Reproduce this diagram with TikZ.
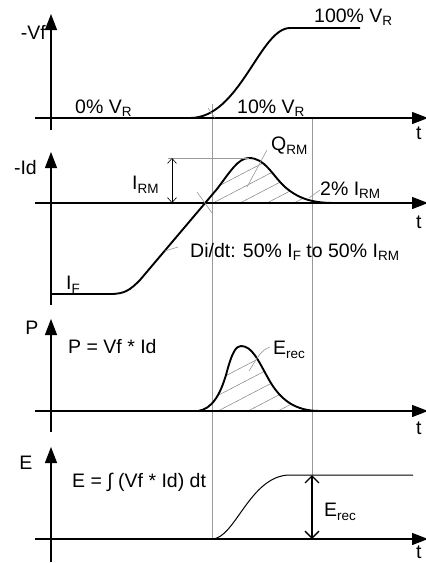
\documentclass[tikz,border=0pt]{standalone}
\usepackage{fontspec}
\setmainfont{Liberation Sans}
\usetikzlibrary{arrows.meta}
\newcommand\lw[1]{\raisebox{-0.35ex}{\fontsize{13.5}{13.5}\selectfont #1}}

\begin{document}
\begin{tikzpicture}[x=1pt,y=-1pt,
    font=\fontsize{19.5}{22}\selectfont,
    asse/.style={line width=1.3pt,-{Triangle[length=16pt,width=12pt]}},
    curva/.style={line width=1.9pt,line join=round},
    guida/.style={gray!80,line width=0.6pt},
    tratto/.style={gray,line width=0.5pt},
    lbl/.style={inner sep=0pt,anchor=west}]
    \useasboundingbox (0,0) rectangle (426,563);
    %linee guida verticali
    \draw[guida] (212,104) -- (212,539);
    \draw[guida] (312,118) -- (312,475);
    %grafico Vf: assi
    \draw[asse] (35,118) -- (428,118);
    \draw[asse] (51,130) -- (51,14);
    \node[anchor=east,inner sep=0pt] (vf) at (46,32) {-Vf};
    \node[lbl] (t1) at (416,133) {t};
    %curva Vf
    \draw[curva] (51,118) -- (190,118) .. controls (240,118) and (260,28) .. (290,28) -- (360,28);
    \draw[guida] (208,108) -- (215,118);
    \node[lbl] (vcento) at (314,17) {100\% V\lw{R}};
    \node[lbl] (vzero) at (75,108) {0\% V\lw{R}};
    \node[lbl] (vdieci) at (237,108) {10\% V\lw{R}};
    %grafico Id: tratteggio
    \begin{scope}
        \clip (203.5,203) -- (217,189) .. controls (230,172) and (238,158) .. (249,158) .. controls (265,158) and (272,175) .. (285,187) .. controls (300,200) and (315,203) .. (335,203) -- cycle;
        \foreach \s in {132,159,...,321}
            \draw[tratto] (\s,203) -- ++(100,-52);
    \end{scope}
    %grafico Id: assi
    \draw[asse] (35,203) -- (428,203);
    \draw[asse] (51,305) -- (51,152);
    \node[anchor=east,inner sep=0pt] (id) at (37,168) {-Id};
    \node[lbl] (t2) at (416,222) {t};
    %curva Id
    \draw[curva] (51,294) -- (110,294) .. controls (125,294) and (130,290) .. (140,280) -- (217,189) .. controls (230,172) and (238,158) .. (249,158) .. controls (265,158) and (272,175) .. (285,187) .. controls (300,200) and (315,203) .. (335,203) -- (400,203);
    \draw[guida] (197,192) -- (212,213);
    %I_RM
    \draw[guida] (168,158) -- (249,158);
    \draw[line width=0.6pt,{Straight Barb[length=5pt,width=9pt]}-{Straight Barb[length=5pt,width=9pt]}] (172,158) -- (172,203);
    \node[lbl] (irm) at (132,185) {I\lw{RM}};
    \node[lbl] (qrm) at (271,146) {Q\lw{RM}};
    \draw[guida] (qrm.west) ++(-4,4) -- (247,187);
    \node[lbl] (pirm) at (320,190) {2\% I\lw{RM}};
    \draw[guida] (309,198) -- (pirm.west);
    \node[lbl] (didt) at (190,252) {Di/dt: 50\% I\lw{F} to 50\% I\lw{RM}};
    \coordinate (pdi) at (165,251);
    \draw[guida] (pdi) -- ++(13,-4);
    \node[lbl] (ifw) at (66,285) {I\lw{F}};
    %grafico P: tratteggio
    \begin{scope}
        \clip (198,411) .. controls (212,409) and (220,395) .. (226,375) .. controls (232,352) and (236,346) .. (241,346) .. controls (252,346) and (258,360) .. (268,378) .. controls (280,400) and (295,411) .. (320,411) -- cycle;
        \foreach \s in {128,158,...,338}
            \draw[tratto] (\s,411) -- ++(100,-52);
    \end{scope}
    %grafico P: assi
    \draw[asse] (35,411) -- (428,411);
    \draw[asse] (51,432) -- (51,319);
    \node (p) at (32,328) {P};
    \node[lbl] (t3) at (416,428) {t};
    \node[lbl] (peq) at (68,347) {P = Vf * Id};
    %curva P
    \draw[curva] (51,411) -- (198,411) .. controls (212,409) and (220,395) .. (226,375) .. controls (232,352) and (236,346) .. (241,346) .. controls (252,346) and (258,360) .. (268,378) .. controls (280,400) and (295,411) .. (320,411) -- (405,411);
    \node[lbl] (erec) at (273,350) {E\lw{rec}};
    \draw[guida] (erec.west) ++(-3,-3) .. controls (260,350) and (255,362) .. (249,371);
    %grafico E: assi
    \draw[asse] (35,539) -- (428,539);
    \draw[asse] (51,562) -- (51,447);
    \node (e) at (26,463) {E};
    \node[lbl] (t4) at (416,552) {t};
    \node[lbl] (eeq) at (72,482) {E = ∫ (Vf * Id) dt};
    %curva E
    \draw[line width=1pt] (212,539) .. controls (235,539) and (250,475) .. (290,475) -- (413,475);
    %freccia E_rec
    \draw[line width=1.3pt,{Straight Barb[length=7pt,width=14pt]}-{Straight Barb[length=7pt,width=14pt]}] (312,475) -- (312,539);
    \node[lbl] (erecb) at (324,512) {E\lw{rec}};
\end{tikzpicture}
\end{document}
